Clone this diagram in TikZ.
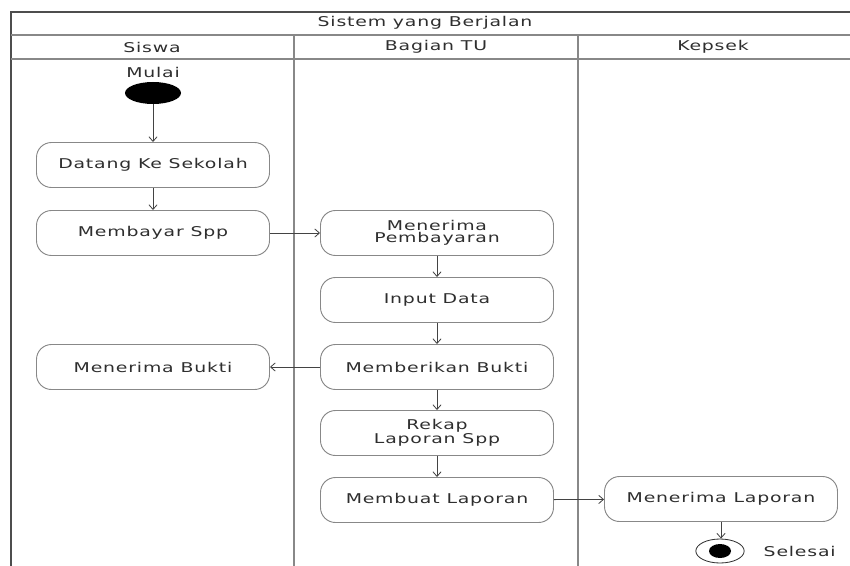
\documentclass[tikz,border=0pt]{standalone}
\usepackage{fontspec}
\setmainfont{DejaVu Sans}[FakeStretch=1.4,LetterSpace=6]
\usetikzlibrary{positioning,shapes.geometric,arrows.meta}

\definecolor{garis}{HTML}{888888}
\definecolor{teks}{HTML}{2E2E2E}

\begin{document}
\begin{tikzpicture}[
                x=0.03cm, y=-0.03cm,
                font=\fontsize{11.5}{10.5}\selectfont,
                text=teks,
                aksi/.style={draw=garis,line width=0.8pt,rounded corners=0.45cm,
                    minimum width=6.99cm,minimum height=1.35cm,align=center},
                alur/.style={draw=teks!90,line width=0.7pt,-{Straight Barb[length=4pt,width=7pt]}},
                lajur/.style={draw=garis,line width=1.6pt}
            ]
                \useasboundingbox (0,0) rectangle (850,565);
                % bingkai swimlane
                \draw[lajur] (294,35) -- (294,570);
                \draw[lajur] (578,35) -- (578,570);
                \draw[draw=teks!85,line width=1.2pt] (855,12) -- (11,12) -- (11,570);
                \draw[garis,line width=1.2pt] (11,35) -- (855,35);
                \draw[garis,line width=1.2pt] (11,59) -- (855,59);
                \node (judul) at (425,23) {Sistem yang Berjalan};
                \node (siswa) at (152,47) {Siswa};
                \node (tu)    at (436,47) {Bagian TU};
                \node (kepsek) at (713,47) {Kepsek};

                \node (mulai) [ellipse,fill=black,minimum width=1.68cm,minimum height=0.66cm,
                    label={[label distance=0pt]above:Mulai}] at (153,93) {};
                \node (datang) [aksi] at (153,165) {Datang Ke Sekolah};
                \node (bayar)  [aksi] at (153,233) {Membayar Spp};
                \node (terima) [aksi] at (437,233) {Menerima\\Pembayaran};
                \node (input)  [aksi] at (437,300) {Input Data};
                \node (bukti)  [aksi] at (437,367) {Memberikan Bukti};
                \node (tbukti) [aksi] at (153,367) {Menerima Bukti};
                \node (rekap)  [aksi] at (437,433) {Rekap\\Laporan Spp};
                \node (buat)   [aksi] at (437,500) {Membuat Laporan};
                \node (tlapor) [aksi] at (721,499) {Menerima Laporan};
                \node (selesai) [ellipse,draw=teks,line width=0.7pt,minimum width=1.45cm,minimum height=0.72cm,
                    label={[label distance=0.45cm]right:Selesai}] at (720,551) {};
                \node (inti) [ellipse,fill=black,minimum width=0.66cm,minimum height=0.42cm] at (selesai) {};

                \draw[alur] (mulai) -- (datang);
                \draw[alur] (datang) -- (bayar);
                \draw[alur] (bayar) -- (terima);
                \draw[alur] (terima) -- (input);
                \draw[alur] (input) -- (bukti);
                \draw[alur] (bukti) -- (tbukti);
                \draw[alur] (bukti) -- (rekap);
                \draw[alur] (rekap) -- (buat);
                \draw[alur] (buat) -- (tlapor);
                \draw[alur] (tlapor.south) -- (tlapor.south |- selesai.north);
            \end{tikzpicture}
\end{document}
